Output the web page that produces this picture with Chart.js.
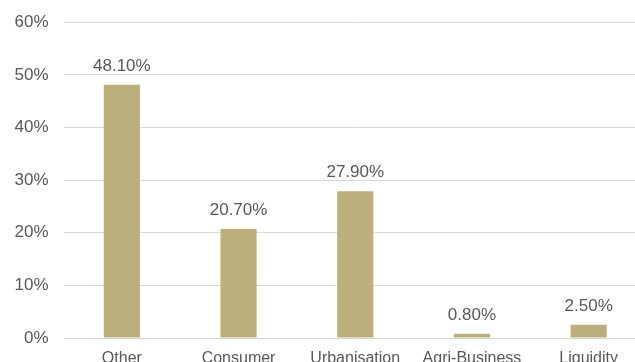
<!DOCTYPE html>
<html>
<head>
<meta charset="utf-8">
<script src="https://cdn.jsdelivr.net/npm/chart.js@4/dist/chart.umd.min.js"></script>
<style>
  html, body { margin: 0; padding: 0; background: #fff; overflow: hidden; }
  #wrap { position: absolute; left: 0; top: -3px; width: 650px; height: 382px; }
</style>
</head>
<body>
<div id="wrap"><canvas id="sectorChart" width="650" height="382"></canvas></div>
<script>
// Datos del gráfico
const categories = ['Other', 'Consumer', 'Urbanisation', 'Agri-Business', 'Liquidity'];
const weights = [48.1, 20.7, 27.9, 0.8, 2.5];
const yTicks = [0, 10, 20, 30, 40, 50, 60];

const textColor = '#595959';
const font = 'Liberation Sans, Arial, sans-serif';

// Etiquetas encima de cada barra
const barLabels = {
    id: 'barLabels',
    afterDatasetsDraw(chart) {
        const ctx = chart.ctx;
        const meta = chart.getDatasetMeta(0);
        ctx.save();
        ctx.fillStyle = textColor;
        ctx.font = '17px ' + font;
        ctx.textAlign = 'center';
        ctx.textBaseline = 'bottom';
        meta.data.forEach(function (bar, i) {
            ctx.fillText(weights[i].toFixed(2) + '%', bar.x, bar.y - 10);
        });
        ctx.restore();
    }
};

const ctx = document.getElementById('sectorChart').getContext('2d');
new Chart(ctx, {
    type: 'bar',
    data: {
        labels: categories,
        datasets: [{
            data: weights,
            backgroundColor: '#BCAF7B',
            borderWidth: 0,
            barPercentage: 1,
            categoryPercentage: 0.31
        }]
    },
    options: {
        responsive: false,
        animation: false,
        layout: { padding: { top: 11, right: 3, left: 0, bottom: 0 } },
        plugins: { legend: { display: false }, tooltip: { enabled: false } },
        scales: {
            x: {
                grid: { display: false },
                border: { display: false },
                ticks: { color: textColor, font: { size: 16, family: font }, padding: 3, maxRotation: 0, autoSkip: false },
                afterFit: function (scale) { scale.height = 41; }
            },
            y: {
                min: 0,
                max: 60,
                afterBuildTicks: function (scale) { scale.ticks = yTicks.map(v => ({ value: v })); },
                grid: { color: '#D9D9D9', lineWidth: 1, drawTicks: false },
                border: { display: false },
                ticks: {
                    color: textColor,
                    font: { size: 17, family: font },
                    padding: 15,
                    callback: function (value) { return value + '%'; }
                },
                afterFit: function (scale) { scale.width = 63.5; }
            }
        }
    },
    plugins: [barLabels]
});
</script>
</body>
</html>
